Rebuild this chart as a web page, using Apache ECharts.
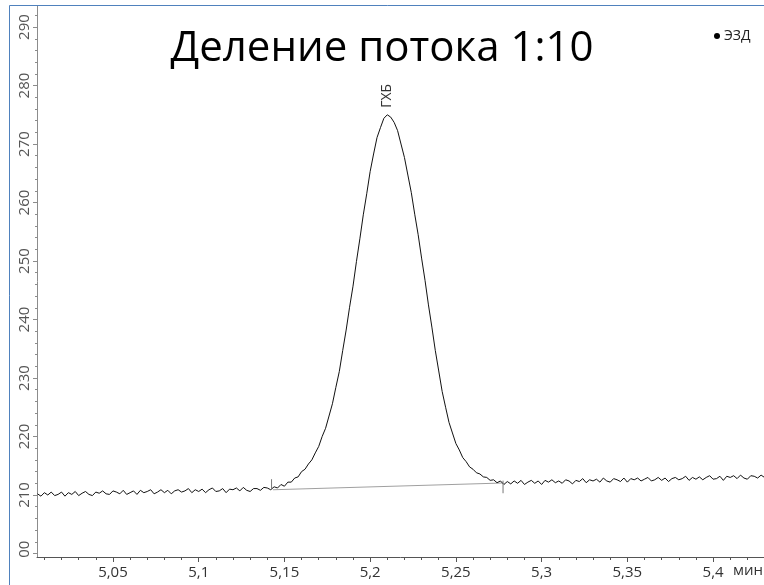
<!DOCTYPE html>
<html>
<head>
<meta charset="utf-8">
<script src="https://cdn.jsdelivr.net/npm/echarts@6/dist/echarts.min.js"></script>
<style>
  html, body { margin: 0; padding: 0; background: #fff; }
  #chart { width: 764px; height: 585px; }
</style>
</head>
<body>
<div id="chart"></div>
<script>
// ECD detector trace, sampled every 0.002 min starting at 5.006 min
const t0 = 5.006;
const dt = 0.002;
const signal = [
  210.2, 209.8, 210.4, 210.0, 210.5, 209.9, 210.1, 210.5, 209.8, 210.4,
  210.1, 210.6, 209.9, 210.3, 210.6, 210.1, 209.9, 210.5, 210.3, 210.7,
  210.2, 210.1, 210.7, 210.5, 210.2, 210.8, 210.1, 210.4, 210.7, 210.1,
  210.8, 210.4, 210.6, 210.9, 210.2, 210.5, 210.9, 210.4, 210.8, 210.2,
  210.7, 210.9, 210.5, 210.7, 211.1, 210.4, 210.9, 210.6, 211.0, 210.4,
  210.9, 211.2, 210.6, 210.7, 211.1, 210.4, 211.0, 210.9, 211.2, 210.7,
  211.3, 210.8, 210.6, 211.1, 211.1, 210.8, 211.3,
  // peak
  211.2, 210.9, 211.4, 211.2, 211.8, 211.5, 212.2, 212.2, 212.9, 213.1,
  214.0, 214.4, 215.3, 216.0, 217.2, 218.3, 220.0, 221.4, 223.5, 225.6,
  228.4, 231.1, 234.7, 238.2, 242.1, 245.7, 249.9, 253.8, 257.9, 261.5,
  265.3, 268.3, 271.1, 272.8, 274.4, 275.0, 274.6, 273.7, 272.3, 270.0,
  267.7, 264.7, 261.7, 258.0, 254.5, 250.5, 246.7, 242.5, 238.7, 234.7,
  231.2, 227.7, 225.0, 222.4, 220.6, 218.8, 217.7, 216.4, 215.7, 214.8,
  214.4, 213.8, 213.6, 213.1, 213.0, 212.5, 212.6, 212.1, 212.4, 211.8,
  212.3,
  // tail
  211.9, 212.4, 212.0, 212.5, 211.8, 212.2, 212.5, 212.0, 212.4, 211.8,
  212.5, 212.2, 212.6, 212.1, 212.4, 212.0, 212.6, 212.4, 211.9, 212.5,
  212.3, 212.8, 212.1, 212.6, 212.4, 212.7, 212.2, 212.9, 212.4, 212.2,
  212.8, 212.6, 212.3, 212.9, 212.2, 212.8, 212.6, 212.9, 212.4, 212.7,
  213.0, 212.4, 212.6, 213.0, 212.5, 212.9, 212.3, 212.8, 213.0, 212.6,
  212.8, 213.2, 212.5, 213.0, 212.7, 213.1, 212.6, 213.0, 213.3, 212.7,
  212.8, 213.2, 212.5, 213.2, 213.0, 213.3, 212.8, 213.4, 212.9, 212.7,
  213.3, 213.2, 212.9, 213.4, 213.0
];

// integration baseline under the peak
const baselineTimes = [5.1433, 5.2775];
const baselineValues = [210.9, 212.05];
// peak start / end markers
const startMarkTime = 5.1425;
const startMarkRange = [210.85, 212.7];
const endMarkTime = 5.2775;
const endMarkRange = [212.45, 210.3];

const peakName = 'ГХБ';
const detectorName = 'ЭЗД';
const titleText = 'Деление потока 1:10';
const timeUnit = 'мин';

// axis ticks
const xMajorTicks = [5.05, 5.1, 5.15, 5.2, 5.25, 5.3, 5.35, 5.4];
const yMajorTicks = [200, 210, 220, 230, 240, 250, 260, 270, 280, 290];
const xMin = 5.0057, xMax = 5.4297;
const yMin = 199.4, yMax = 293.6;

const xMinorTicks = [];
for (let k = 501; k <= 543; k++) xMinorTicks.push(k / 100);
const yMinorTicks = [];
for (let v = 200; v <= 292; v += 2) yMinorTicks.push(v);

const trace = signal.map((v, i) => [+(t0 + i * dt).toFixed(3), v]);
const baseline = baselineTimes.map((t, i) => [t, baselineValues[i]]);
const startMark = startMarkRange.map(v => [startMarkTime, v]);
const endMark = endMarkRange.map(v => [endMarkTime, v]);

const FONT = '"Open Sans", "Noto Sans", sans-serif';
const fmtX = v => String(+(+v).toFixed(2)).replace('.', ',');

const chart = echarts.init(document.getElementById('chart'), null, { renderer: 'canvas' });
chart.setOption({
  animation: false,
  backgroundColor: '#fff',
  title: {
    text: titleText,
    left: 'center',
    top: 23,
    textStyle: { fontFamily: FONT, fontSize: 42, fontWeight: 'normal', color: '#000' }
  },
  legend: {
    data: [detectorName],
    left: 709,
    top: 24,
    icon: 'circle',
    itemWidth: 6,
    itemHeight: 6,
    itemGap: 4,
    textStyle: { fontFamily: FONT, fontSize: 14, color: '#222', padding: [0, 0, 0, -1] }
  },
  grid: { left: 37, right: 0, top: 6, bottom: 28, containLabel: false },
  xAxis: [
    {
      type: 'value', min: xMin, max: xMax, position: 'bottom',
      axisLine: { lineStyle: { color: '#555', width: 1 } },
      axisTick: { customValues: xMajorTicks, length: 5, lineStyle: { color: '#555' } },
      axisLabel: { customValues: xMajorTicks, formatter: fmtX, margin: 8, color: '#333', fontSize: 15, fontFamily: FONT },
      splitLine: { show: false }
    },
    {
      type: 'value', min: xMin, max: xMax, position: 'bottom', offset: 0,
      axisLine: { show: false },
      axisTick: { customValues: xMinorTicks, length: 3, lineStyle: { color: '#555' } },
      axisLabel: { show: false },
      splitLine: { show: false }
    }
  ],
  yAxis: [
    {
      type: 'value', min: yMin, max: yMax, position: 'left',
      axisLine: { show: true, lineStyle: { color: '#8c8c8c', width: 1 } },
      axisTick: { show: true, customValues: yMajorTicks, length: 4, lineStyle: { color: '#8c8c8c' } },
      axisLabel: { customValues: yMajorTicks, rotate: 90, margin: 5, color: '#555', fontSize: 15, fontFamily: FONT },
      splitLine: { show: false }
    },
    {
      type: 'value', min: yMin, max: yMax, position: 'left', offset: 0,
      axisLine: { show: false },
      axisTick: { show: true, customValues: yMinorTicks, length: 2, lineStyle: { color: '#8c8c8c' } },
      axisLabel: { show: false },
      splitLine: { show: false }
    }
  ],
  series: [
    {
      name: detectorName,
      type: 'line',
      data: trace,
      showSymbol: false,
      symbol: 'circle',
      color: '#000',
      lineStyle: { color: '#111', width: 1 },
      markPoint: {
        symbol: 'circle',
        symbolSize: 0,
        data: [{ type: 'max', name: peakName }],
        label: {
          show: true,
          formatter: peakName,
          position: 'top',
          distance: 7,
          rotate: 90,
          align: 'left',
          verticalAlign: 'middle',
          color: '#333',
          fontSize: 14,
          fontFamily: FONT
        }
      }
    },
    {
      name: 'baseline', type: 'line', data: baseline, showSymbol: false,
      lineStyle: { color: '#a0a0a0', width: 1.2 }, z: 1
    },
    {
      name: 'start', type: 'line', data: startMark, showSymbol: false,
      lineStyle: { color: '#777', width: 1 }
    },
    {
      name: 'end', type: 'line', data: endMark, showSymbol: false,
      lineStyle: { color: '#777', width: 1 }
    }
  ],
  graphic: [
    {
      type: 'rect', z: 100, silent: true,
      shape: { x: 11, y: 558, width: 25, height: 27 },
      style: { fill: '#fff' }
    },
    {
      type: 'text', z: 101, left: 733, top: 563,
      style: { text: timeUnit, font: '15px ' + FONT, fill: '#333' }
    },
    {
      type: 'rect', z: 102, silent: true,
      shape: { x: 9.5, y: 5.5, width: 800, height: 700 },
      style: { fill: 'none', stroke: '#4F81BD', lineWidth: 1 }
    }
  ]
});
</script>
</body>
</html>
